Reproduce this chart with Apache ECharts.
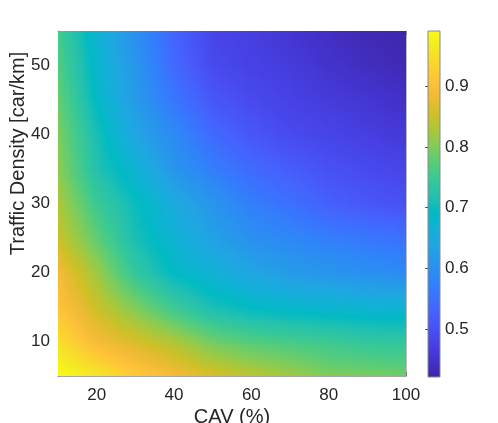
<!DOCTYPE html>
<html>
<head>
<meta charset="utf-8">
<script src="https://cdn.jsdelivr.net/npm/echarts@6/dist/echarts.min.js"></script>
<style>
  html, body { margin: 0; padding: 0; background: #fff; }
  #chart { width: 498px; height: 423px; }
</style>
</head>
<body>
<div id="chart"></div>
<script>
// CAV share (%) and traffic density (car/km) grid nodes
const cav = [10, 20, 30, 40, 50, 60, 70, 80, 90, 100]
const density = [5, 10, 15, 20, 25, 30, 35, 40, 45, 50, 55]
// one row per density value, one column per CAV value
const values = [
  [0.99, 0.96, 0.92, 0.89, 0.86, 0.84, 0.82, 0.80, 0.795, 0.79],
  [0.95, 0.89, 0.86, 0.83, 0.79, 0.77, 0.76, 0.75, 0.74, 0.735],
  [0.91, 0.85, 0.80, 0.75, 0.71, 0.69, 0.68, 0.675, 0.67, 0.67],
  [0.89, 0.82, 0.74, 0.69, 0.665, 0.64, 0.62, 0.61, 0.60, 0.59],
  [0.85, 0.78, 0.71, 0.67, 0.63, 0.60, 0.585, 0.57, 0.56, 0.55],
  [0.83, 0.75, 0.70, 0.65, 0.61, 0.57, 0.55, 0.525, 0.51, 0.50],
  [0.81, 0.72, 0.67, 0.61, 0.57, 0.54, 0.52, 0.50, 0.49, 0.48],
  [0.80, 0.71, 0.64, 0.59, 0.54, 0.51, 0.49, 0.48, 0.47, 0.46],
  [0.785, 0.69, 0.62, 0.56, 0.51, 0.49, 0.475, 0.465, 0.455, 0.445],
  [0.77, 0.68, 0.61, 0.54, 0.49, 0.475, 0.465, 0.45, 0.44, 0.43],
  [0.76, 0.67, 0.60, 0.53, 0.48, 0.47, 0.455, 0.44, 0.43, 0.425],
]
const xTicks = [20, 40, 60, 80, 100]
const yTicks = [10, 20, 30, 40, 50]
const cbTicks = [0.5, 0.6, 0.7, 0.8, 0.9]
const cMin = 0.421
const cMax = 0.991

// parula colormap
const parula = ['#3e26a8', '#4332cb', '#4741e5', '#4852f4', '#4563fd', '#3875fe', '#2e87f7',
  '#2796eb', '#20a5e3', '#12b1d6', '#02bac3', '#24c1ae', '#37c897', '#57cc7a', '#81cc59',
  '#abc739', '#d1bf27', '#f0ba36', '#fec338', '#fad62d', '#f5e924', '#f9fb15']

function colorOf(v) {
  const t = Math.min(1, Math.max(0, (v - cMin) / (cMax - cMin)))
  return echarts.color.lerp(t, parula)
}

const cells = []
for (let j = 0; j < density.length - 1; j++) {
  for (let i = 0; i < cav.length - 1; i++) {
    cells.push([cav[i], cav[i + 1], density[j], density[j + 1],
      values[j][i], values[j][i + 1], values[j + 1][i], values[j + 1][i + 1]])
  }
}

// shading interp: each cell split into small pixel-snapped patches
const SUB = 12
function renderCell(params, api) {
  const p0 = api.coord([api.value(0), api.value(2)])
  const p1 = api.coord([api.value(1), api.value(3)])
  const bl = api.value(4), br = api.value(5), tl = api.value(6), tr = api.value(7)
  const w = (p1[0] - p0[0]) / SUB
  const h = (p0[1] - p1[1]) / SUB
  const children = []
  for (let a = 0; a < SUB; a++) {
    const u = (a + 0.5) / SUB
    const xa = Math.round(p0[0] + a * w)
    const xb = Math.round(p0[0] + (a + 1) * w)
    for (let b = 0; b < SUB; b++) {
      const t = (b + 0.5) / SUB
      const yb = Math.round(p0[1] - b * h)
      const ya = Math.round(p0[1] - (b + 1) * h)
      const v = (1 - u) * (1 - t) * bl + u * (1 - t) * br + (1 - u) * t * tl + u * t * tr
      children.push({
        type: 'rect',
        shape: { x: xa, y: ya, width: xb - xa, height: yb - ya },
        style: { fill: colorOf(v) },
      })
    }
  }
  return { type: 'group', children }
}

const textColor = '#262626'
const font = 'Liberation Sans, Arial, Helvetica, sans-serif'

const chart = echarts.init(document.getElementById('chart'), null, { renderer: 'canvas' })
chart.setOption({
  animation: false,
  backgroundColor: '#fff',
  grid: [
    { left: 58, top: 31, width: 348, height: 345, outerBoundsMode: 'none', containLabel: false },
    {
      left: 428, top: 31, width: 12, height: 346, show: true,
      outerBoundsMode: 'none', containLabel: false,
      backgroundColor: new echarts.graphic.LinearGradient(0, 1, 0, 0,
        parula.map((c, k) => ({ offset: k / (parula.length - 1), color: c }))),
      borderColor: '#8a8a8a', borderWidth: 1,
    },
  ],
  xAxis: [
    {
      gridIndex: 0, type: 'value', min: 10, max: 100,
      name: 'CAV (%)', nameLocation: 'middle', nameGap: 31, nameMoveOverlap: false,
      nameTextStyle: { fontSize: 20, color: textColor, fontFamily: font },
      axisLine: { lineStyle: { color: 'rgba(60,60,60,0.45)', width: 1 } },
      axisTick: { inside: true, length: 4, customValues: xTicks, lineStyle: { color: 'rgba(60,60,60,0.5)' } },
      axisLabel: { customValues: xTicks, fontSize: 17, color: textColor, fontFamily: font, margin: 11 },
      splitLine: { show: false },
    },
    {
      gridIndex: 0, type: 'value', min: 10, max: 100, position: 'top',
      axisLine: { lineStyle: { color: 'rgba(60,60,60,0.35)', width: 1 } },
      axisTick: { inside: true, length: 4, customValues: xTicks, lineStyle: { color: 'rgba(60,60,60,0.4)' } },
      axisLabel: { show: false },
      splitLine: { show: false },
    },
    { gridIndex: 1, type: 'value', min: 0, max: 1, show: false },
  ],
  yAxis: [
    {
      gridIndex: 0, type: 'value', min: 5, max: 55,
      name: 'Traffic Density [car/km]', nameLocation: 'middle', nameGap: 30, nameMoveOverlap: false,
      nameTextStyle: { fontSize: 20, color: textColor, fontFamily: font, padding: [0, 0, 0, 100] },
      axisLine: { lineStyle: { color: 'rgba(50,50,50,0.7)', width: 1 } },
      axisTick: { inside: true, length: 4, customValues: yTicks, lineStyle: { color: 'rgba(60,60,60,0.5)' } },
      axisLabel: { customValues: yTicks, fontSize: 17, color: textColor, fontFamily: font, margin: 8 },
      splitLine: { show: false },
    },
    {
      gridIndex: 0, type: 'value', min: 5, max: 55, position: 'right',
      axisLine: { lineStyle: { color: 'rgba(60,60,60,0.35)', width: 1 } },
      axisTick: { inside: true, length: 4, customValues: yTicks, lineStyle: { color: 'rgba(60,60,60,0.4)' } },
      axisLabel: { show: false },
      splitLine: { show: false },
    },
    {
      gridIndex: 1, type: 'value', min: cMin, max: cMax, position: 'right',
      axisLine: { show: false },
      axisTick: { inside: true, length: 3, customValues: cbTicks, lineStyle: { color: '#555' } },
      axisLabel: { customValues: cbTicks, fontSize: 17, color: textColor, fontFamily: font, margin: 5,
        formatter: (v) => v.toFixed(1) },
      splitLine: { show: false },
    },
  ],
  series: [{
    type: 'custom',
    xAxisIndex: 0,
    yAxisIndex: 0,
    renderItem: renderCell,
    encode: { x: [0, 1], y: [2, 3] },
    clip: true,
    silent: true,
    z: 1,
    data: cells,
  }],
})
</script>
</body>
</html>
